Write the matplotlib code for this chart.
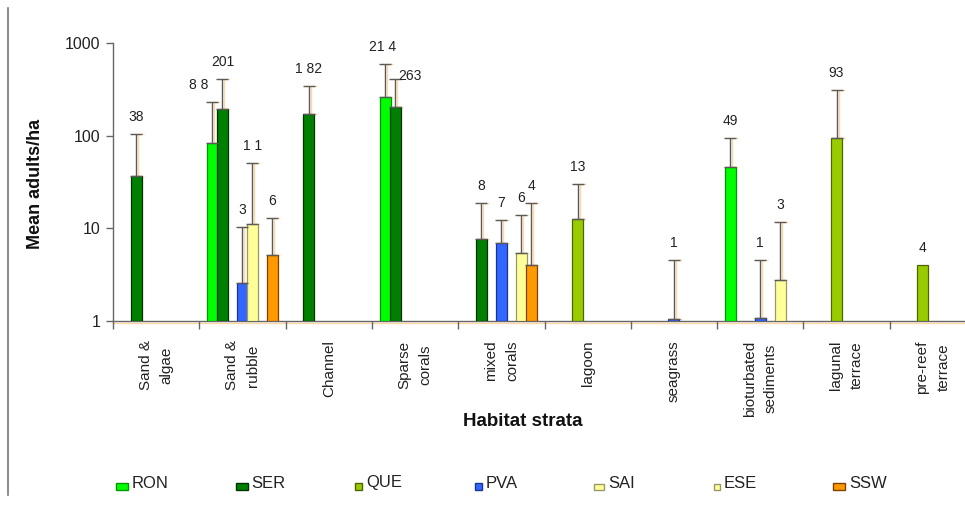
import matplotlib
matplotlib.use("Agg")
import matplotlib.pyplot as plt
from matplotlib.lines import Line2D
from matplotlib.patches import Rectangle
import numpy as np

plt.rcParams["font.family"] = ["Liberation Sans", "DejaVu Sans"]

categories = ["Sand &\nalgae", "Sand &\nrubble", "Channel", "Sparse\ncorals",
              "mixed\ncorals", "lagoon", "seagrass", "bioturbated\nsediments",
              "lagunal\nterrace", "pre-reef\nterrace"]
series = ["RON", "SER", "QUE", "PVA", "SAI", "ESE", "SSW"]

# bar heights (mean adults/ha), None = no bar
ron_mean = [None, 84, None, 259, None, None, None, 46, None, None]
ser_mean = [36.7, 192, 170, 205, 7.7, None, None, None, None, None]
que_mean = [None, None, None, None, None, 12.5, None, None, 93.5, 4.0]
pva_mean = [None, 2.6, None, None, 6.9, None, 1.06, 1.07, None, None]
sai_mean = [None, 11.1, None, None, None, None, None, None, None, None]
ese_mean = [None, None, None, None, 5.4, None, None, 2.8, None, None]
ssw_mean = [None, 5.1, None, None, 4.0, None, None, None, None, None]

# top of the error bar
ron_err = [None, 230, None, 597, None, None, None, 93.5, None, None]
ser_err = [105, 411, 347, 411, 18.7, None, None, None, None, None]
que_err = [None, None, None, None, None, 30.3, None, None, 310, None]
pva_err = [None, 10.3, None, None, 12.4, None, 4.5, 4.5, None, None]
sai_err = [None, 51, None, None, None, None, None, None, None, None]
ese_err = [None, None, None, None, 14, None, None, 11.6, None, None]
ssw_err = [None, 13, None, None, 18.7, None, None, None, None, None]

# printed data labels
ron_lab = [None, "8 8", None, "21 4", None, None, None, "49", None, None]
ser_lab = ["38", "201", "1 82", "263", "8", None, None, None, None, None]
que_lab = [None, None, None, None, None, "13", None, None, "93", "4"]
pva_lab = [None, "3", None, None, "7", None, "1", "1", None, None]
sai_lab = [None, "1 1", None, None, None, None, None, None, None, None]
ese_lab = [None, None, None, None, "6", None, None, "3", None, None]
ssw_lab = [None, "6", None, None, "4", None, None, None, None, None]

means = [ron_mean, ser_mean, que_mean, pva_mean, sai_mean, ese_mean, ssw_mean]
errs = [ron_err, ser_err, que_err, pva_err, sai_err, ese_err, ssw_err]
labs = [ron_lab, ser_lab, que_lab, pva_lab, sai_lab, ese_lab, ssw_lab]

colors = ["#00ff00", "#008000", "#99cc00", "#3366ff", "#ffff99", "#ffff99", "#ff9900"]
edges = ["#009900", "#003300", "#4d6600", "#1a3399", "#999966", "#999966", "#804000"]

W, H = 965, 505
fig = plt.figure(figsize=(W / 100, H / 100), dpi=100)
ax = fig.add_axes([113 / W, 184 / H, 863 / W, 278 / H])

cat_px = 86.3
step = 10 / cat_px
bw = 11 / cat_px
x = np.arange(len(categories))

# label nudges in pixels (dx, dy) for a few labels Excel moved around
nudge = {(0, 1): (-14, 0), (0, 3): (-2, 0), (1, 3): (15, -14)}

for i, name in enumerate(series):
    off = (i - 3) * step
    for j in range(len(categories)):
        v = means[i][j]
        if v is None:
            continue
        xc = x[j] + off
        ax.bar(xc, v - 1, bottom=1, width=bw, color=colors[i],
               edgecolor=edges[i], linewidth=0.9, zorder=3)
        top = v
        if errs[i][j] is not None:
            e = errs[i][j]
            # light orange shadow of the error bar
            ax.errorbar(xc + 2 / cat_px, v, yerr=[[0], [e - v]], fmt="none",
                        ecolor="#ffd9a6", elinewidth=1, capsize=4.5,
                        capthick=1, zorder=2)
            ax.errorbar(xc, v, yerr=[[0], [e - v]], fmt="none",
                        ecolor="#5a5a5a", elinewidth=1, capsize=4.5,
                        capthick=1, zorder=4)
            top = e
        if labs[i][j]:
            dx, dy = nudge.get((i, j), (0, 0))
            ax.annotate(labs[i][j], (xc, top), xytext=(dx * 0.72, (17 + dy) * 0.72),
                        textcoords="offset points", ha="center", va="center",
                        fontsize=10, color="#222222", zorder=5)

ax.set_yscale("log")
ax.set_ylim(1, 1000)
ax.set_xlim(-0.5, len(categories) - 0.5)
ax.set_yticks([1, 10, 100, 1000])
ax.set_yticklabels(["1", "10", "100", "1000"])
ax.yaxis.set_minor_locator(matplotlib.ticker.NullLocator())
ax.tick_params(axis="y", which="major", direction="out", length=5, width=1,
               color="#666666", labelsize=11.5, pad=4, labelcolor="#222222")

ax.set_xticks(np.arange(len(categories) + 1) - 0.5)
ax.set_xticklabels([])
ax.set_xticks(x, minor=True)
ax.set_xticklabels(categories, minor=True, rotation=90, va="top", ha="center",
                   multialignment="center", fontsize=11, color="#222222",
                   linespacing=1.65)
ax.tick_params(axis="x", which="major", direction="out", length=6, width=1,
               color="#666666")
ax.tick_params(axis="x", which="minor", length=0, pad=14)

for s in ["top", "right"]:
    ax.spines[s].set_visible(False)
for s in ["left", "bottom"]:
    ax.spines[s].set_color("#666666")
    ax.spines[s].set_linewidth(1)

# faint orange shadow under x axis
ax.plot([0, 1], [-0.008, -0.008], transform=ax.transAxes, color="#ffd9a6",
        lw=1, clip_on=False, zorder=1)

fig.text(36 / W, 1 - 184 / H, "Mean adults/ha", rotation=90, ha="center",
         va="center", fontsize=13, fontweight="bold", color="#111111")
fig.text(523 / W, 1 - 422 / H, "Habitat strata", ha="center", va="center",
         fontsize=13.5, fontweight="bold", color="#111111")

# left frame line
fig.add_artist(Line2D([7.5 / W, 7.5 / W], [1 - 8 / H, 1 - 495 / H],
                      color="#777777", lw=1.2))

# legend row
key_w = [12, 12, 7, 7, 10, 6, 12]
key_h = [7, 7, 7, 7, 6, 6, 7]
for i, name in enumerate(series):
    x0 = 116 + i * 119.5
    kw, kh = key_w[i], key_h[i]
    fig.add_artist(Rectangle((x0 / W, 1 - (490) / H), kw / W, kh / H,
                             facecolor=colors[i], edgecolor=edges[i], lw=1,
                             transform=fig.transFigure))
    fig.text((x0 + kw + 4) / W, 1 - 483 / H, name, ha="left", va="center",
             fontsize=12, color="#222222")

fig.savefig("out.png", dpi=100, facecolor="white")
